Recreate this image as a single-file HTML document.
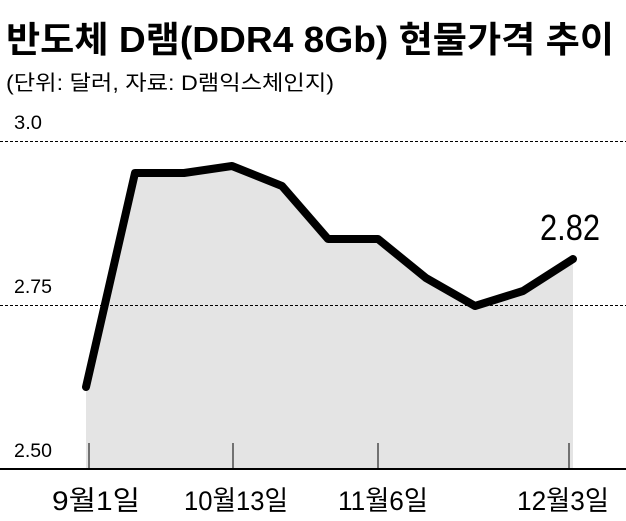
<!DOCTYPE html>
<html><head><meta charset="utf-8"><style>
body{margin:0;background:#fff;}
svg text{font-family:"Liberation Sans","Noto Sans CJK KR",sans-serif;}
</style></head><body>
<svg width="626" height="516" viewBox="0 0 626 516" xmlns="http://www.w3.org/2000/svg">
<text x="6" y="52" font-size="36" font-weight="bold" fill="#000" textLength="608" lengthAdjust="spacingAndGlyphs">반도체 D램(DDR4 8Gb) 현물가격 추이</text>
<text x="6" y="90" font-size="21" fill="#000" textLength="328" lengthAdjust="spacingAndGlyphs">(단위: 달러, 자료: D램익스체인지)</text>
<polygon points="86,387 135,173 184,173 232,166 282,186 328,239 378,239 426,278 475,306 523,291 573,259 573,469 86,469" fill="#e4e4e4"/>
<line x1="0" y1="141.5" x2="626" y2="141.5" stroke="#000" stroke-width="1" stroke-dasharray="3,2"/>
<line x1="0" y1="305.5" x2="626" y2="305.5" stroke="#000" stroke-width="1" stroke-dasharray="3,2"/>
<text x="14" y="129" font-size="19" fill="#000" textLength="28" lengthAdjust="spacingAndGlyphs">3.0</text>
<text x="14" y="293" font-size="19" fill="#000" textLength="38" lengthAdjust="spacingAndGlyphs">2.75</text>
<text x="14" y="457" font-size="19" fill="#000" textLength="38" lengthAdjust="spacingAndGlyphs">2.50</text>
<polyline points="86,387 135,173 184,173 232,166 282,186 328,239 378,239 426,278 475,306 523,291 573,259" fill="none" stroke="#000" stroke-width="8" stroke-linejoin="round" stroke-linecap="round"/>
<line x1="0" y1="469" x2="626" y2="469" stroke="#000" stroke-width="2"/>
<line x1="89" y1="443" x2="89" y2="469" stroke="#000" stroke-width="1"/>
<line x1="233" y1="443" x2="233" y2="469" stroke="#000" stroke-width="1"/>
<line x1="378" y1="443" x2="378" y2="469" stroke="#000" stroke-width="1"/>
<line x1="569" y1="443" x2="569" y2="469" stroke="#000" stroke-width="1"/>
<text x="540" y="240" font-size="36" fill="#000" textLength="60" lengthAdjust="spacingAndGlyphs">2.82</text>
<text x="52" y="510" font-size="27" fill="#000" textLength="88" lengthAdjust="spacingAndGlyphs">9월1일</text>
<text x="184" y="510" font-size="27" fill="#000" textLength="104" lengthAdjust="spacingAndGlyphs">10월13일</text>
<text x="338" y="510" font-size="27" fill="#000" textLength="90" lengthAdjust="spacingAndGlyphs">11월6일</text>
<text x="517" y="510" font-size="27" fill="#000" textLength="92" lengthAdjust="spacingAndGlyphs">12월3일</text>
</svg>
</body></html>
